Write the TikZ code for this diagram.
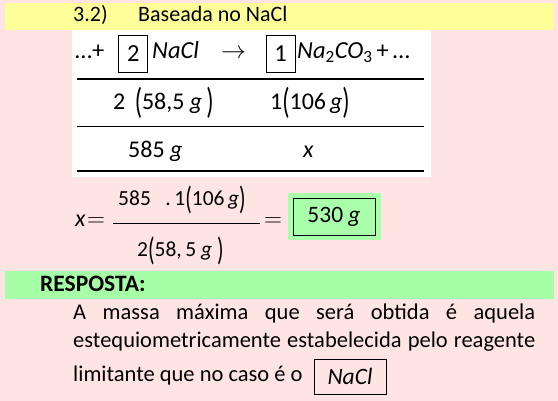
\documentclass[tikz,border=0pt]{standalone}
\usepackage{fontspec}
\setmainfont{Carlito}
\usetikzlibrary{positioning}
\definecolor{backpink}{RGB}{255,228,228}
\definecolor{titleyellow}{RGB}{255,255,153}
\definecolor{answergreen}{RGB}{166,255,166}
\definecolor{resultgreen}{RGB}{170,255,170}
\newcommand{\tallparen}[1]{\raisebox{-4pt}{\scalebox{1}[1.5]{#1}}}
\tikzstyle{title}=[anchor=base west,inner sep=0pt,font=\fontsize{22}{22}\selectfont]
\tikzstyle{row}=[anchor=base west,inner sep=0pt,font=\fontsize{24.5}{24.5}\selectfont]
\tikzstyle{cell}=[anchor=base west,inner sep=0pt,font=\fontsize{24}{24}\selectfont]
\tikzstyle{frac}=[anchor=base west,inner sep=0pt,font=\fontsize{21.5}{21.5}\selectfont]
\tikzstyle{body}=[anchor=base west,inner sep=0pt,font=\fontsize{22.5}{22.5}\selectfont]
\tikzstyle{coef}=[draw,line width=.8pt,minimum width=29pt,minimum height=37pt,inner sep=0pt,font=\fontsize{24.5}{24.5}\selectfont]
\tikzstyle{framed}=[draw,line width=.8pt,inner sep=0pt,font=\fontsize{23.5}{23.5}\selectfont]
\tikzstyle{rule}=[line width=1.3pt]
\tikzset{x=1pt}
\tikzset{y=-1pt}
\begin{document}
\begin{tikzpicture}
  \useasboundingbox (0,0) rectangle (558,401);
  \fill[backpink] (0,0) rectangle (558,401);
  \fill[titleyellow] (5,3) rectangle (554,30);
  \fill[white] (72,30) rectangle (431,177);
  \draw (73,22) node[title] (item) {3.2)};
  \draw (138,22) node[title] (heading) {Baseada no NaCl};

  %% Reaction
  \draw (75,59) node[row] (lead) {…+};
  \draw (133.3,53.8) node[coef] (coefA) {2};
  \draw (152,59) node[row] (salt) {\textit{NaCl}};
  \draw (221,59) node[row,font=\fontsize{25}{25}\selectfont] (arrow) {$\rightarrow$};
  \draw (280.5,53.8) node[coef] (coefB) {1};
  \draw (297,59) node[row] (soda) {\textit{Na}\textsubscript{2}\textit{CO}\textsubscript{3}\,+\,…};
  \draw[rule] (77,79) -- (424,79);

  %% Masses
  \draw (113,110) node[cell] (massA) {2\ \,\tallparen{(}58,5\ \textit{g}\,\tallparen{)}};
  \draw (270,110) node[cell] (massB) {1\tallparen{(}106\,\textit{g}\tallparen{)}};
  \draw[rule] (77,126.5) -- (424,126.5);
  \draw (128,158) node[cell] (givenA) {585 \textit{g}};
  \draw (303,158) node[cell] (givenB) {\textit{x}};
  \draw[rule] (77,171) -- (424,171);

  %% Proportion
  \draw (75,227) node[cell] (xvar) {\textit{x}};
  \draw (87,227) node[cell] (eqA) {$=$};
  \draw (118,206) node[frac] (num) {585\ \ \ .\,1\tallparen{(}106\,\textit{g}\tallparen{)}};
  \draw[line width=.8pt] (113,223) -- (260,223);
  \draw (137,257) node[frac] (den) {2\tallparen{(}58,\,5\ \textit{g}\ \tallparen{)}};
  \draw (264,227) node[cell] (eqB) {$=$};
  \fill[resultgreen] (288,193) rectangle (381,240);
  \draw (334,216.5) node[framed,minimum width=82pt,minimum height=37pt] (result) {530 \textit{g}};

  %% Answer
  \fill[answergreen] (5,271) rectangle (554,299);
  \draw (40,292) node[body,font=\fontsize{23.5}{23.5}\selectfont\bfseries] (answerhead) {RESPOSTA:};
  \draw (73,320) node[body] (lineA) {\makebox[462pt][s]{A massa máxima que será obtida é aquela}};
  \draw (73,348) node[body] (lineB) {\makebox[462pt][s]{estequiometricamente estabelecida pelo reagente}};
  \draw (73,382) node[body] (lineC) {limitante que no caso é o};
  \draw (350,376.5) node[framed,minimum width=72pt,minimum height=35pt] (limiting) {\textit{NaCl}};
\end{tikzpicture}
\end{document}
